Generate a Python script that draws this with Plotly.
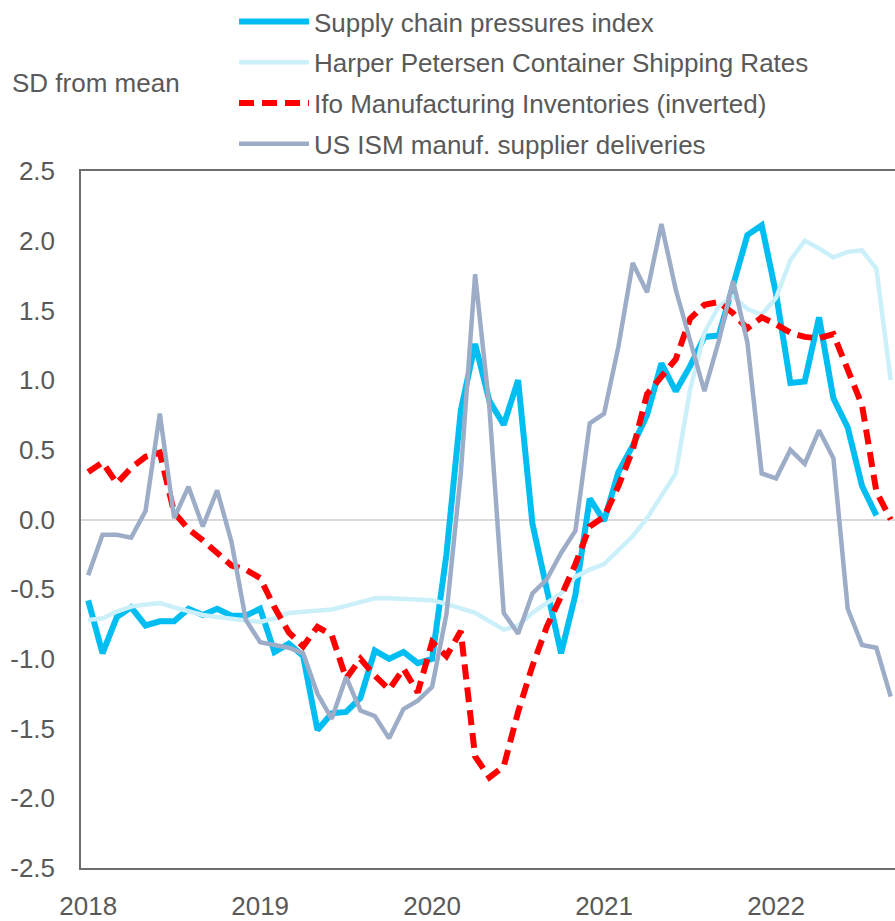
import plotly.graph_objects as go

months = list(range(57))  # Jan 2018 .. Sep 2022
year_ticks = [0, 12, 24, 36, 48]
year_labels = ["2018", "2019", "2020", "2021", "2022"]
y_ticks = [-2.5, -2.0, -1.5, -1.0, -0.5, 0.0, 0.5, 1.0, 1.5, 2.0, 2.5]
y_labels = ["-2.5", "-2.0", "-1.5", "-1.0", "-0.5", "0.0", "0.5", "1.0", "1.5", "2.0", "2.5"]

supply_chain = [-0.58, -0.96, -0.70, -0.63, -0.76, -0.73, -0.73, -0.64, -0.685, -0.64, -0.69, -0.69,
                -0.64, -0.95, -0.89, -0.98, -1.51, -1.39, -1.38, -1.28, -0.94, -1.00, -0.95, -1.03,
                -1.00, -0.25, 0.78, 1.26, 0.85, 0.68, 1.00, -0.03, -0.50, -0.96, -0.54, 0.15,
                -0.01, 0.34, 0.53, 0.75, 1.12, 0.92, 1.10, 1.31, 1.32, 1.67, 2.04, 2.11,
                1.62, 0.98, 0.99, 1.45, 0.87, 0.66, 0.24, 0.03, None]

harper_petersen = [-0.72, -0.71, -0.66, -0.625, -0.61, -0.60, -0.63, -0.66, -0.685, -0.70, -0.715, -0.725,
                   -0.735, -0.71, -0.67, -0.66, -0.65, -0.645, -0.62, -0.59, -0.565, -0.565, -0.57, -0.57,
                   -0.58, -0.605, -0.64, -0.67, -0.73, -0.79, -0.76, -0.67, -0.60, -0.53, -0.41, -0.36,
                   -0.32, -0.22, -0.12, 0.01, 0.175, 0.33, 0.93, 1.34, 1.53, 1.60, 1.51, 1.47,
                   1.59, 1.86, 2.00, 1.945, 1.88, 1.92, 1.93, 1.80, 1.00]

ifo_inventories = [0.34, 0.41, 0.26, 0.37, 0.45, 0.48, 0.05, -0.07, -0.15, -0.24, -0.33, -0.36,
                   -0.42, -0.63, -0.81, -0.91, -0.77, -0.83, -1.14, -1.00, -1.12, -1.22, -1.07, -1.24,
                   -0.88, -0.98, -0.80, -1.70, -1.85, -1.77, -1.38, -1.05, -0.77, -0.55, -0.32, -0.05,
                   0.02, 0.24, 0.50, 0.90, 1.03, 1.15, 1.44, 1.54, 1.56, 1.48, 1.37, 1.45,
                   1.40, 1.34, 1.31, 1.30, 1.33, 1.06, 0.82, 0.20, 0.00]

ism_deliveries = [-0.40, -0.11, -0.11, -0.13, 0.06, 0.76, 0.01, 0.235, -0.05, 0.21, -0.16, -0.72,
                  -0.88, -0.90, -0.92, -0.96, -1.25, -1.43, -1.13, -1.37, -1.41, -1.57, -1.36, -1.30,
                  -1.20, -0.68, 0.33, 1.76, 0.80, -0.67, -0.82, -0.53, -0.43, -0.24, -0.08, 0.69,
                  0.76, 1.24, 1.84, 1.63, 2.12, 1.65, 1.28, 0.92, 1.28, 1.71, 1.27, 0.33,
                  0.295, 0.50, 0.40, 0.64, 0.44, -0.64, -0.90, -0.92, -1.27]

TXT = "#595959"
FONT = "Liberation Sans, Arial, sans-serif"

fig = go.Figure()
fig.add_trace(go.Scatter(x=months, y=supply_chain, mode="lines", name="Supply chain pressures index",
                         line=dict(color="#00BDF2", width=6), legendgroup="a"))
fig.add_trace(go.Scatter(x=months, y=harper_petersen, mode="lines", name="Harper Petersen Container Shipping Rates",
                         line=dict(color="#CCF0FA", width=4.5), legendgroup="b"))
fig.add_trace(go.Scatter(x=months, y=ifo_inventories, mode="lines", name="Ifo Manufacturing Inventories (inverted)",
                         line=dict(color="#FF0000", width=6, dash="15px,8px"), legendgroup="c"))
fig.add_trace(go.Scatter(x=months, y=ism_deliveries, mode="lines", name="US ISM manuf. supplier deliveries",
                         line=dict(color="#9DADC8", width=4.5), legendgroup="d"))

fig.update_layout(
    width=895, height=921,
    margin=dict(l=81, r=0, t=171, b=53, autoexpand=False),
    paper_bgcolor="white", plot_bgcolor="white",
    font=dict(family=FONT, size=26, color=TXT),
    showlegend=True,
    legend=dict(x=(234 - 81) / 814, y=1 + 173 / 697,
                xanchor="left", yanchor="top", orientation="v",
                font=dict(size=26, color=TXT), itemwidth=70, tracegroupgap=4,
                bgcolor="rgba(0,0,0,0)"),
    xaxis=dict(range=[-0.5, 56.3], tickmode="array", tickvals=year_ticks, ticktext=year_labels,
               showgrid=False, zeroline=False, showline=True, linecolor="#6E6E6E", linewidth=1.5,
               mirror=True, ticks="", ticklabelstandoff=14, tickfont=dict(size=26, color=TXT)),
    yaxis=dict(range=[-2.5, 2.5], tickmode="array", tickvals=y_ticks, ticktext=y_labels,
               showgrid=False, zeroline=True, zerolinecolor="#D9D9D9", zerolinewidth=1.5,
               showline=True, linecolor="#6E6E6E", linewidth=1.5, mirror=True, ticks="",
               ticklabelstandoff=19, tickfont=dict(size=26, color=TXT)),
    annotations=[dict(text="SD from mean", xref="paper", yref="paper", x=(10 - 81) / 814, y=1 + 88 / 697,
                      xanchor="left", yanchor="middle", showarrow=False,
                      font=dict(size=26, color=TXT))],
)

fig.write_html("out.html", config={"displayModeBar": False},
               post_script="document.body.style.margin='0';document.body.style.overflow='hidden';")
